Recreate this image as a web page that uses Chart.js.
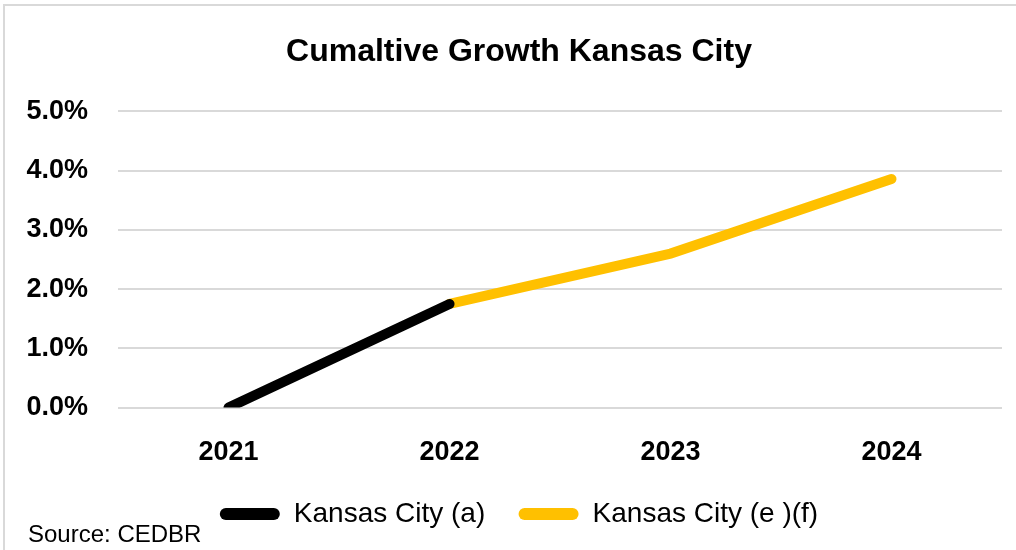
<!DOCTYPE html>
<html>
<head>
<meta charset="utf-8">
<script src="https://cdn.jsdelivr.net/npm/chart.js@4"></script>
<style>
  body { margin: 0; background: #fff; }
  #wrap { position: relative; width: 1016px; height: 550px; }
  #frame { position: absolute; left: 3px; top: 4px; right: 0; bottom: 0; border-left: 2px solid #d9d9d9; border-top: 2px solid #d9d9d9; pointer-events: none; }
  #source { position: absolute; left: 28px; top: 520px; font: 24px "Liberation Sans", Arial, sans-serif; color: #000; }
</style>
</head>
<body>
<div id="wrap">
  <canvas id="chart" width="1016" height="550"></canvas>
  <div id="frame"></div>
  <div id="source">Source: CEDBR</div>
</div>
<script>
// --- datos ---
const years = ['2021', '2022', '2023', '2024'];
const actual = [0.0, 1.75, null, null];      // Kansas City (a)
const forecast = [null, 1.75, 2.6, 3.86];    // Kansas City (e )(f)
const yTicks = [0, 1, 2, 3, 4, 5];

const FONT = '"Liberation Sans", Arial, sans-serif';

// el eje Y es más angosto que sus etiquetas: evitar que se recorten
const unclipY = {
    id: 'unclipY',
    afterLayout: chart => { chart.scales.y.left = 0; }
};

const ctx = document.getElementById('chart').getContext('2d');

new Chart(ctx, {
    type: 'line',
    data: {
        labels: years,
        datasets: [
            {
                label: 'Kansas City (a)',
                data: actual,
                borderColor: '#000000',
                backgroundColor: '#000000',
                borderWidth: 10,
                borderCapStyle: 'round',
                pointRadius: 0,
                tension: 0
            },
            {
                label: 'Kansas City (e )(f)',
                data: forecast,
                borderColor: '#FFC000',
                backgroundColor: '#FFC000',
                borderWidth: 10,
                borderCapStyle: 'round',
                pointRadius: 0,
                tension: 0
            }
        ]
    },
    plugins: [unclipY],
    options: {
        responsive: false,
        animation: false,
        layout: { padding: { left: 36, right: 14, top: 20, bottom: 12 } },
        plugins: {
            title: {
                display: true,
                text: 'Cumaltive Growth Kansas City',
                color: '#000',
                font: { family: FONT, size: 32, weight: 'bold' },
                padding: { top: 13, bottom: 40 }
            },
            legend: {
                position: 'bottom',
                labels: {
                    color: '#000',
                    font: { family: FONT, size: 28 },
                    boxWidth: 60,
                    boxHeight: 12,
                    useBorderRadius: true,
                    borderRadius: 6,
                    padding: 10,
                    generateLabels: chart => {
                        const items = Chart.defaults.plugins.legend.labels.generateLabels(chart);
                        items.forEach((it, i) => {
                            it.lineWidth = 0;
                            if (i < items.length - 1) it.text += '   ';
                        });
                        return items;
                    }
                }
            },
            tooltip: { enabled: false }
        },
        scales: {
            x: {
                offset: true,
                grid: { display: false },
                border: { display: false },
                ticks: { color: '#000', font: { family: FONT, size: 27, weight: 'bold' }, padding: 21 }
            },
            y: {
                min: yTicks[0],
                max: yTicks[yTicks.length - 1],
                afterBuildTicks: axis => { axis.ticks = yTicks.map(v => ({ value: v })); },
                afterFit: axis => { axis.width = 82; },
                grid: { color: '#d9d9d9', lineWidth: 2, drawTicks: false },
                border: { display: false },
                ticks: {
                    color: '#000',
                    font: { family: FONT, size: 27, weight: 'bold' },
                    padding: 30,
                    callback: v => v.toFixed(1) + '%'
                }
            }
        }
    }
});
</script>
</body>
</html>
